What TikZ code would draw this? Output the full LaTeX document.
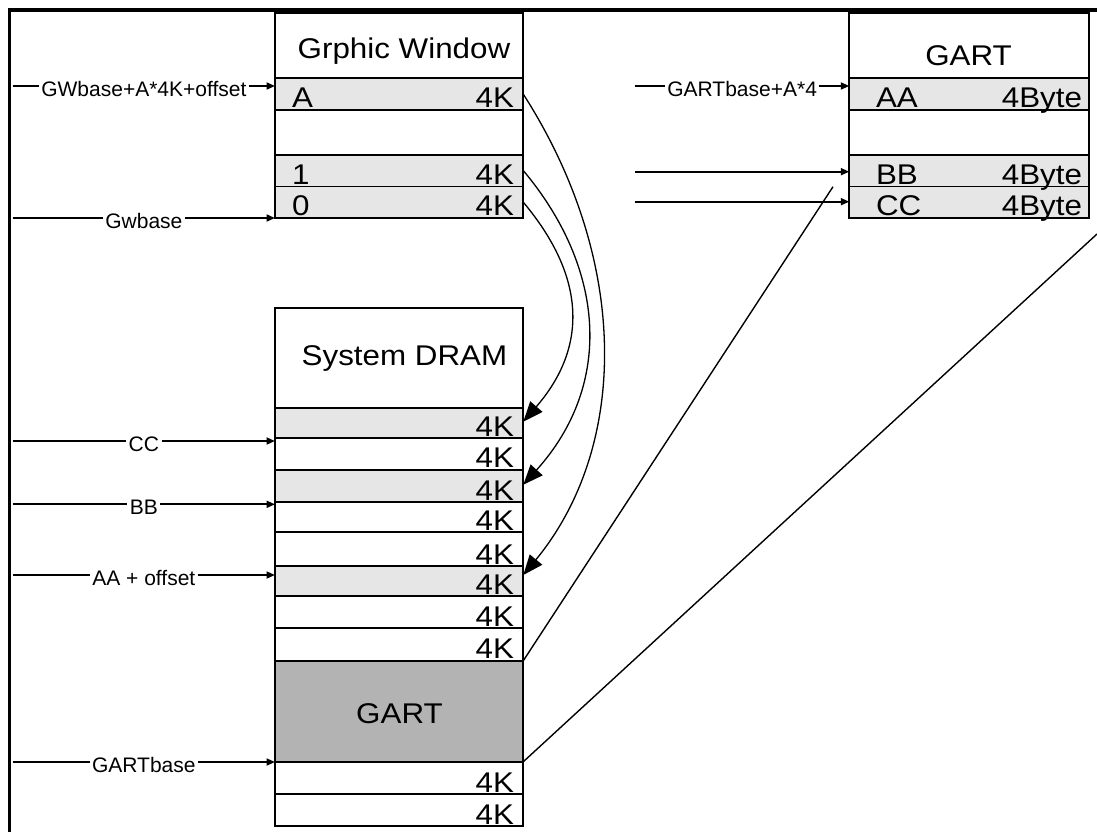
\documentclass[tikz,border=0pt]{standalone}
\usepackage{fontspec}
\setmainfont{Liberation Sans}
\newfontfamily\bigf{Liberation Sans}[FakeStretch=1.1]
\usetikzlibrary{arrows.meta}
\definecolor{rowgray}{RGB}{230,230,230}
\definecolor{gartgray}{RGB}{179,179,179}
\begin{document}
\begin{tikzpicture}[x=1pt,y=-1pt,
  cell/.style={draw=black, line width=1.8pt, inner sep=0pt, outer sep=0pt, anchor=north west, minimum width=248.3pt},
  tcell/.style={cell, minimum width=239.4pt},
  lite/.style={fill=rowgray},
  big/.style={font=\bigf\fontsize{28.5}{32}\selectfont, inner sep=0pt, outer sep=0pt},
  lab/.style={font=\fontsize{21}{25}\selectfont, fill=white, inner xsep=2.5pt, inner ysep=1pt, text height=15pt, text depth=0pt, yshift=-2.5pt},
  larrow/.style={line width=1.8pt, -{Triangle[length=8.5pt,width=7pt]}},
  carrow/.style={line width=1.3pt, -{Triangle[length=20pt,width=16pt]}},
  diag/.style={line width=1.4pt}
]
\useasboundingbox (0,0) rectangle (1097,831);
% outer frame
\draw[line width=3.3pt] (9.5,840) -- (9.5,10) -- (1110,10);

% Graphic window
\node[cell, minimum height=65.6pt] (gT) at (275,12.7) {};
\node[cell, lite, minimum height=31.7pt] (gA) at (275,78.3) {};
\node[cell, minimum height=44.7pt] (gE) at (275,110) {};
\node[cell, lite, minimum height=31.7pt] (g1) at (275,154.7) {};
\node[cell, lite, minimum height=31.6pt] (g0) at (275,186.4) {};
\node[big, anchor=base] (gTt) at (404,58) {Grphic Window};
\node[big, anchor=base west] (gAl) at (292,107.5) {A};
\node[big, anchor=base east] (gAr) at (514,107.5) {4K};
\node[big, anchor=base west] (g1l) at (292,184) {1};
\node[big, anchor=base east] (g1r) at (514,184) {4K};
\node[big, anchor=base west] (g0l) at (292,215.8) {0};
\node[big, anchor=base east] (g0r) at (514,215.8) {4K};

% GART table
\node[tcell, minimum height=65.6pt] (tT) at (849.3,12.7) {};
\node[tcell, lite, minimum height=31.7pt] (tA) at (849.3,78.3) {};
\node[tcell, minimum height=44.7pt] (tE) at (849.3,110) {};
\node[tcell, lite, minimum height=31.7pt] (tB) at (849.3,154.7) {};
\node[tcell, lite, minimum height=31.6pt] (tC) at (849.3,186.4) {};
\node[big, anchor=base] (tTt) at (968.5,65) {GART};
\node[big, anchor=base west] (tAl) at (876,107.5) {AA};
\node[big, anchor=base east] (tAr) at (1082,107.5) {4Byte};
\node[big, anchor=base west] (tBl) at (876,184.5) {BB};
\node[big, anchor=base east] (tBr) at (1082,184.5) {4Byte};
\node[big, anchor=base west] (tCl) at (876,215.8) {CC};
\node[big, anchor=base east] (tCr) at (1082,215.8) {4Byte};

% System DRAM
\node[cell, minimum height=100pt] (dT) at (275,308.3) {};
\node[cell, lite, minimum height=30pt] (d1) at (275,408.3) {};
\node[cell, minimum height=31.7pt] (d2) at (275,438.3) {};
\node[cell, lite, minimum height=32.3pt] (d3) at (275,470) {};
\node[cell, minimum height=30pt] (d4) at (275,502.3) {};
\node[cell, minimum height=33.7pt] (d5) at (275,532.3) {};
\node[cell, lite, minimum height=30pt] (d6) at (275,566) {};
\node[cell, minimum height=32.3pt] (d7) at (275,596) {};
\node[cell, minimum height=32.4pt] (d8) at (275,628.3) {};
\node[cell, fill=gartgray, minimum height=101pt] (dG) at (275,660.7) {};
\node[cell, minimum height=32.3pt] (d9) at (275,761.7) {};
\node[cell, minimum height=32pt] (d10) at (275,794) {};
\node[big, anchor=base] (dTt) at (404.5,365) {System DRAM};
\node[big, anchor=base] (dGt) at (399.5,723) {GART};
\node[big, anchor=base east] (d1r) at (514,436.3) {4K};
\node[big, anchor=base east] (d2r) at (514,467.5) {4K};
\node[big, anchor=base east] (d3r) at (514,500.5) {4K};
\node[big, anchor=base east] (d4r) at (514,530.5) {4K};
\node[big, anchor=base east] (d5r) at (514,564) {4K};
\node[big, anchor=base east] (d6r) at (514,594) {4K};
\node[big, anchor=base east] (d7r) at (514,626.3) {4K};
\node[big, anchor=base east] (d8r) at (514,658.7) {4K};
\node[big, anchor=base east] (d9r) at (514,792) {4K};
\node[big, anchor=base east] (d10r) at (514,824) {4K};

% left address arrows
\coordinate (s1) at (12.7,86);
\coordinate (s2) at (12.7,218);
\coordinate (s3) at (12.7,441);
\coordinate (s4) at (12.7,504.3);
\coordinate (s5) at (12.7,575);
\coordinate (s6) at (12.7,762);
\draw[larrow] (s1) -- node[lab] (l1) {GWbase+A*4K+offset} (s1 -| gA.west);
\draw[larrow] (s2) -- node[lab] (l2) {Gwbase} (s2 -| g0.west);
\draw[larrow] (s3) -- node[lab] (l3) {CC} (s3 -| d2.west);
\draw[larrow] (s4) -- node[lab] (l4) {BB} (s4 -| d4.west);
\draw[larrow] (s5) -- node[lab] (l5) {AA + offset} (s5 -| d6.west);
\draw[larrow] (s6) -- node[lab] (l6) {GARTbase} (s6 -| dG.west);

% right address arrows
\coordinate (r1) at (635,86);
\coordinate (r2) at (635,171.7);
\coordinate (r3) at (635,201.7);
\draw[larrow] (r1) -- node[lab] (l7) {GARTbase+A*4} (r1 -| tA.west);
\draw[larrow] (r2) -- (r2 -| tB.west);
\draw[larrow] (r3) -- (r3 -| tC.west);

% mapping curves
\draw[carrow] (gA.east) .. controls (630.7,261.7) and (628.3,447.4) .. ([yshift=-9pt]d6.north east);
\draw[carrow] (g1.east) .. controls (605,268) and (614,384) .. ([yshift=-14.7pt]d3.north east);
\draw[carrow] (g0.east) .. controls (586,277) and (588,347) .. ([yshift=-13.4pt]d1.north east);

% GART region lines
\coordinate (e1) at (833,186.7);
\coordinate (e2) at (1097,234);
\draw[diag] (dG.north east) -- (e1);
\draw[diag] (dG.south east) -- (e2);
\end{tikzpicture}
\end{document}
